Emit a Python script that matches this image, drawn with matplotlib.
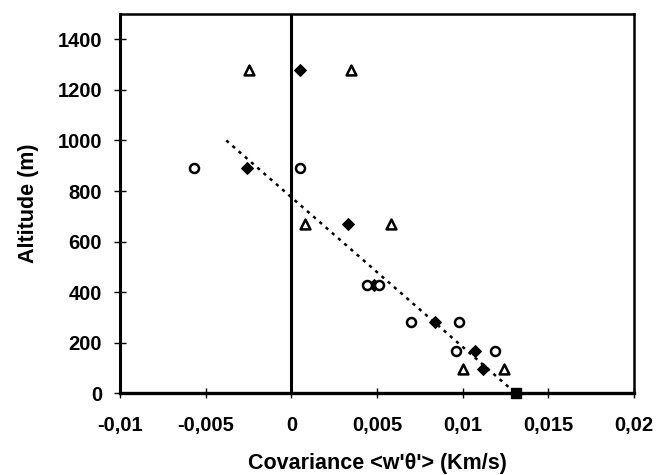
import matplotlib
matplotlib.use("Agg")
import matplotlib.pyplot as plt

plt.rcParams['font.family'] = ['Liberation Sans', 'DejaVu Sans']

# Series
tri_x = [-0.0025, 0.0035, 0.0008, 0.0058, 0.0100, 0.0124]
tri_y = [1280, 1280, 670, 670, 95, 95]

dia_x = [0.0005, -0.0026, 0.0033, 0.0048, 0.0084, 0.0107, 0.0112]
dia_y = [1280, 890, 670, 430, 282, 167, 96]

circ_x = [-0.0057, 0.0005, 0.0044, 0.0051, 0.0070, 0.0098, 0.0096, 0.0119]
circ_y = [890, 890, 430, 430, 282, 282, 167, 167]

surf_x = [0.0131]
surf_y = [0]

trend_x = [-0.0038, 0.0131]
trend_y = [1000, 0]

xticks = [-0.01, -0.005, 0, 0.005, 0.01, 0.015, 0.02]
xtick_labels = ['-0,01', '-0,005', '0', '0,005', '0,01', '0,015', '0,02']
yticks = [0, 200, 400, 600, 800, 1000, 1200, 1400]

fig = plt.figure(figsize=(6.67, 4.75), dpi=100)
ax = fig.add_axes([0.18, 0.172, 0.7705, 0.7985])

ax.set_xlim(-0.01, 0.02)
ax.set_ylim(0, 1500)

ax.plot(trend_x, trend_y, linestyle=(0, (1.3, 2.0)), color='black', lw=1.8, zorder=2)
ax.axvline(0, color='black', lw=2.2, zorder=1)

ax.scatter(tri_x, tri_y, marker='^', s=50, facecolors='white', edgecolors='black',
           linewidths=1.8, zorder=3)
ax.scatter(dia_x, dia_y, marker='D', s=34, color='black', zorder=3)
ax.scatter(circ_x, circ_y, marker='o', s=42, facecolors='white', edgecolors='black',
           linewidths=1.8, zorder=3)
ax.scatter(surf_x, surf_y, marker='s', s=50, color='black', zorder=4, clip_on=False)

for s in ['top', 'right']:
    ax.spines[s].set_linewidth(1.8)
ax.spines['left'].set_linewidth(2.2)
ax.spines['bottom'].set_linewidth(2.4)

ax.set_xticks(xticks)
ax.set_xticklabels(xtick_labels)
ax.set_yticks(yticks)
ax.tick_params(axis='y', direction='inout', length=8, width=1, labelsize=14.5, pad=9)
ax.tick_params(axis='x', direction='inout', length=7, width=1, labelsize=14.5, pad=13)
for lab in ax.get_xticklabels() + ax.get_yticklabels():
    lab.set_fontweight('bold')

ax.set_xlabel("Covariance <w'θ'> (Km/s)", fontsize=15.5, fontweight='bold', labelpad=13)
ax.set_ylabel("Altitude (m)", fontsize=15.5, fontweight='bold', labelpad=13)

fig.savefig('out.png', dpi=100)
